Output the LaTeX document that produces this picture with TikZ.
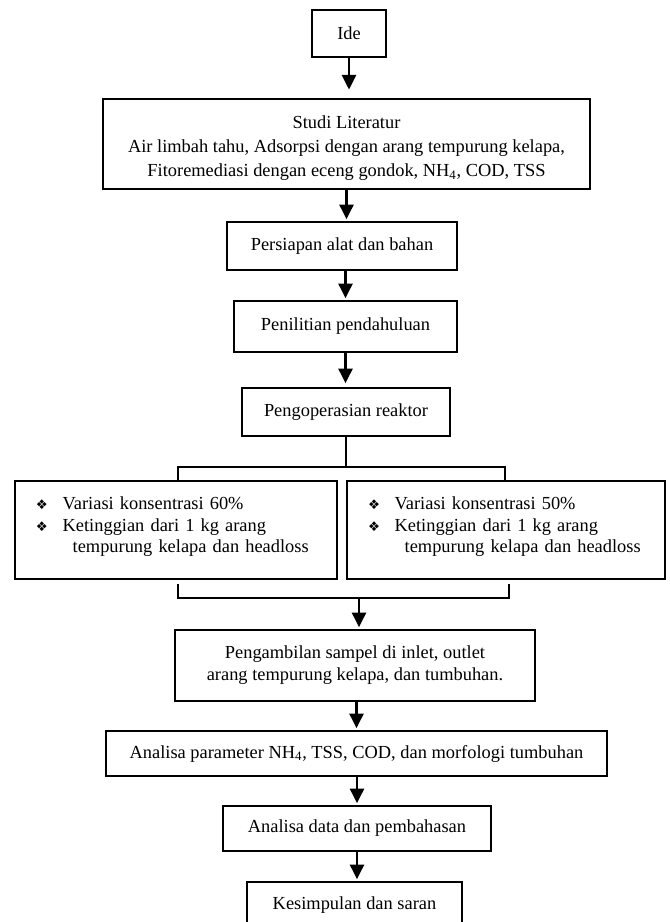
\documentclass[tikz,border=0pt]{standalone}
\usepackage{fontspec}
\setmainfont{Liberation Serif}
\newfontfamily\symf{DejaVu Sans}
\usetikzlibrary{arrows.meta,calc}
\newcommand{\bl}{\makebox[20pt][l]{\symf\fontsize{10}{10}\selectfont\char"2756}}
\tikzset{
  bx/.style={draw, line width=1.1pt, inner sep=0pt, align=center,
    font=\fontsize{13.8}{16}\selectfont},
  arr/.style={line width=1.8pt, -{Triangle[length=11pt,width=10.5pt]}, shorten >=1.5pt},
  lnk/.style={line width=1.1pt},
  listbx/.style={bx, align=left, inner xsep=15.5pt}
}
\begin{document}
\begin{tikzpicture}[x=0.75pt,y=-0.75pt]
\useasboundingbox (0,0) rectangle (669,922);
\clip (0,0) rectangle (669,922);

\node[bx, minimum width=55.5pt, minimum height=35.25pt] (ide) at (349,33.5) {Ide};
\node[bx, minimum width=365.25pt, minimum height=67.5pt, font=\fontsize{13.8}{18}\selectfont] (studi) at (346.5,144)
  {\raisebox{-3pt}[\height][\depth]{\begin{tabular}{@{}c@{}}Studi Literatur\\
   Air limbah tahu, Adsorpsi dengan arang tempurung kelapa,\\
   Fitoremediasi dengan eceng gondok, NH\textsubscript{4}, COD, TSS\end{tabular}}};
\node[bx, minimum width=172.5pt, minimum height=36pt] (pers) at (342,246) {Persiapan alat dan bahan};
\node[bx, minimum width=167.25pt, minimum height=38.25pt] (penil) at (345.5,326.5) {Penilitian pendahuluan};
\node[bx, minimum width=156pt, minimum height=36pt] (peng) at (346,412) {Pengoperasian reaktor};

\node[listbx, minimum width=241.5pt, minimum height=73.5pt, text width=210pt] (left) at (176,530)
  {\raisebox{2.5pt}[\height][\depth]{\parbox{210pt}{\bl Variasi konsentrasi 60\%\\
   \bl Ketinggian dari 1 kg arang\\
   \hspace*{27.5pt}tempurung kelapa dan headloss}}};
\node[listbx, minimum width=238.5pt, minimum height=73.5pt, text width=207pt] (right) at (506,530)
  {\raisebox{2.5pt}[\height][\depth]{\parbox{207pt}{\bl Variasi konsentrasi 50\%\\
   \bl Ketinggian dari 1 kg arang\\
   \hspace*{27.5pt}tempurung kelapa dan headloss}}};

\node[bx, minimum width=270pt, minimum height=53.25pt, font=\fontsize{13.8}{16.5}\selectfont] (samp) at (355,665.5)
  {Pengambilan sampel di inlet, outlet\\ arang tempurung kelapa, dan tumbuhan.};
\node[bx, minimum width=375.75pt, minimum height=33.75pt] (param) at (356.5,753.5)
  {Analisa parameter NH\textsubscript{4}, TSS, COD, dan morfologi tumbuhan};
\node[bx, minimum width=201pt, minimum height=33.75pt] (data) at (357,828.5) {Analisa data dan pembahasan};
\node[bx, minimum width=161.25pt, minimum height=34.5pt] (kes) at (354.5,905) {Kesimpulan dan saran};

% connectors
\draw[arr, shorten >=6.5pt] (ide.south) -- (ide.south |- studi.north);
\draw[arr] (studi.south) -- (studi.south |- pers.north);
\draw[arr] (penil.north |- pers.south) -- (penil.north);
\draw[arr, shorten >=3pt] (penil.south) -- (penil.south |- peng.north);

\coordinate (b1) at (346,467);
\coordinate (b1l) at (178,467);
\coordinate (b1r) at (505,467);
\draw[lnk] (peng.south) -- (b1);
\draw[lnk] (b1l |- left.north) -- (b1l) -- (b1r) -- (b1r |- right.north);

\coordinate (b2) at (359,598);
\coordinate (b2l) at (178,598);
\coordinate (b2r) at (509,598);
\draw[lnk, shorten <=3pt, shorten >=3pt] (b2l |- left.south) -- (b2l) -- (b2r) -- (b2r |- right.south);
\draw[arr] (b2) -- (b2 |- samp.north);

\draw[arr] (param.north |- samp.south) -- (param.north);
\draw[arr] (data.north |- param.south) -- (data.north);
\draw[arr] (data.south) -- (data.south |- kes.north);
\end{tikzpicture}
\end{document}
